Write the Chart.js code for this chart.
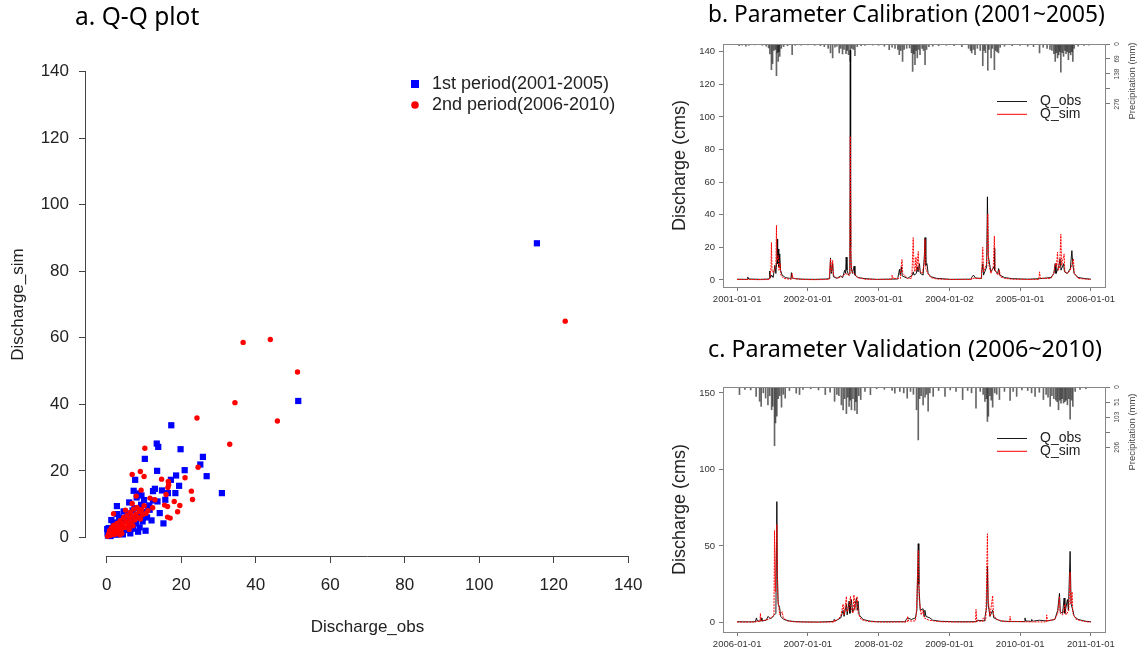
<!DOCTYPE html>
<html>
<head>
<meta charset="utf-8">
<title>Q-Q plot, calibration and validation hydrographs</title>
<script src="https://cdn.jsdelivr.net/npm/chart.js@4.4.1/dist/chart.umd.min.js"></script>
<style>
  body { margin: 0; background: #fff; }
  .panel { position: absolute; }
</style>
</head>
<body>
<div class="panel" style="left:0;top:0"><canvas id="qqChart" width="660" height="650"></canvas></div>
<div class="panel" style="left:660px;top:0"><canvas id="calibChart" width="481" height="325"></canvas></div>
<div class="panel" style="left:660px;top:325px"><canvas id="validChart" width="481" height="325"></canvas></div>
<script>
// ---- a. Q-Q plot data: [Discharge_obs, Discharge_sim]
const period1Points = [
    [115.5, 88.4], [51.4, 41.0], [17.3, 33.7], [13.4, 28.2], [13.8, 27.2], [19.8, 26.5],
    [10.2, 23.6], [25.8, 24.2], [25.1, 21.9], [13.5, 20.0], [20.9, 20.2], [26.8, 18.4],
    [18.6, 18.6], [7.6, 17.3], [17.2, 17.3], [19.4, 15.5], [30.9, 13.3], [7.2, 14.0],
    [12.4, 13.9], [12.9, 14.6], [16.4, 13.3], [18.4, 13.3], [15.7, 11.3], [2.7, 9.4],
    [8.6, 13.2], [15.2, 4.2], [10.4, 2.0], [8.4, 1.7], [9.7, 5.8], [14.8, 14.1],
    [9.3, 12.6], [12.4, 11.1], [11.1, 9.1], [14.2, 7.3], [10.2, 7.6], [6.9, 8.1],
    [13.6, 10.8], [11.4, 9.6],
    [0.1, 2.5], [0.2, 1.2], [0.3, 0.5], [0.5, 2.8], [0.8, 1.0], [1.0, 0.4], [1.2, 5.2],
    [1.5, 2.0], [1.8, 3.5], [2.0, 1.0], [2.3, 4.5], [2.6, 0.8], [3.0, 2.5], [3.3, 6.0],
    [3.6, 1.5], [4.0, 3.8], [4.3, 0.9], [4.8, 5.5], [5.2, 2.2], [5.5, 7.2], [5.9, 3.4],
    [6.3, 1.2], [6.6, 5.0], [7.0, 2.6], [7.4, 8.8], [7.8, 4.2], [8.2, 6.4], [8.8, 3.0],
    [9.2, 9.8], [9.6, 4.8], [10.0, 11.2], [10.8, 6.0], [11.5, 8.3], [12.0, 5.1],
    [6.0, 10.5], [8.0, 12.0], [4.5, 7.8], [2.8, 7.0]
];
const period2Points = [
    [123.1, 65.0], [36.6, 58.6], [43.9, 59.5], [51.2, 49.7], [34.4, 40.5], [24.2, 35.9],
    [45.8, 35.0], [33.0, 28.0], [10.2, 26.8], [24.5, 21.1], [6.8, 18.9], [9.0, 19.8],
    [10.0, 18.3], [21.0, 17.9], [14.7, 17.5], [16.5, 16.8], [16.6, 15.8], [16.4, 15.0],
    [22.7, 13.9], [23.0, 11.4], [18.1, 10.8], [19.6, 9.6], [19.0, 7.7], [15.5, 9.7],
    [16.3, 6.1], [7.9, 12.4], [9.2, 14.2], [6.8, 10.2], [11.6, 11.8], [12.3, 8.9],
    [1.8, 7.1], [15.9, 12.9], [16.3, 9.3], [12.9, 11.3], [17.0, 5.8],
    [0.2, 0.3], [0.5, 1.0], [0.7, 2.0], [1.0, 0.6], [1.2, 2.8], [1.5, 1.5], [1.8, 3.6],
    [2.1, 0.9], [2.4, 2.4], [2.7, 4.2], [3.0, 1.8], [3.3, 3.2], [3.6, 5.0], [3.9, 2.5],
    [4.2, 4.0], [4.5, 6.0], [4.8, 3.0], [5.1, 4.8], [5.4, 6.6], [5.7, 3.8], [6.0, 5.5],
    [6.3, 7.5], [6.6, 4.5], [6.9, 6.2], [7.2, 8.5], [7.5, 5.2], [7.8, 7.0], [8.1, 9.0],
    [8.4, 6.0], [8.7, 7.8], [9.0, 5.5], [9.3, 8.3], [9.6, 6.8], [10.0, 9.5], [10.5, 7.2],
    [11.0, 8.0], [4.0, 1.2], [6.0, 2.4], [2.0, 3.0], [5.0, 8.2], [7.0, 3.5], [3.5, 0.8]
];
const qqTicks = [0, 20, 40, 60, 80, 100, 120, 140];

// ---- b. calibration 2001~2005: [day since 2001-01-01, value]
const calibTickDays = [0, 365, 730, 1096, 1461, 1826];
const calibTickLabels = ['2001-01-01', '2002-01-01', '2003-01-01', '2004-01-02', '2005-01-01', '2006-01-01'];
const calibQTicks = [0, 20, 40, 60, 80, 100, 120, 140];
const calibRainTicks = [0, 69, 138, 207, 276];
const calibRainLabels = ['0', '69', '138', '', '276'];
const calibObs = [
    [0, 0.5], [40, 0.4], [53, 0.4], [55, 1.8], [60, 0.6], [120, 0.4], [160, 0.6], [166, 0.8],
    [168, 5.5], [172, 1.5], [178, 3], [186, 1.5], [195, 9], [200, 4], [205, 12], [207, 25],
    [209, 10], [212, 19], [215, 8], [220, 16], [224, 6], [232, 3], [250, 1.5], [270, 1],
    [278, 1], [280, 4.5], [284, 1.2], [300, 0.8], [340, 0.5], [400, 0.4], [460, 0.6], [475, 0.8],
    [478, 3], [482, 13.5], [486, 4], [493, 10], [497, 2], [515, 1], [535, 2.5], [545, 1.5],
    [555, 6], [560, 4], [563, 14], [567, 6], [575, 3], [582, 4], [584, 141], [586, 20],
    [589, 8], [595, 4], [604, 8.5], [608, 3], [625, 1.5], [660, 0.8], [720, 0.4], [780, 0.5],
    [828, 0.6], [830, 1.5], [838, 6.5], [842, 3], [848, 8], [852, 2.5], [880, 1], [905, 3],
    [909, 5], [913, 3], [925, 4], [930, 8], [934, 5], [941, 10], [946, 4], [960, 3],
    [966, 14], [970, 26], [974, 9], [980, 10], [986, 4], [1000, 2], [1030, 1], [1100, 0.4],
    [1180, 0.5], [1208, 0.5], [1210, 1.5], [1220, 3], [1230, 1.2], [1260, 1], [1262, 4],
    [1268, 10], [1272, 3], [1288, 8], [1292, 51], [1296, 15], [1310, 5], [1326, 8],
    [1328, 19.5], [1331, 6], [1345, 4], [1350, 7], [1356, 3], [1380, 1.5], [1420, 0.8],
    [1500, 0.5], [1560, 0.8], [1620, 1.5], [1635, 4], [1642, 10], [1646, 4], [1660, 8],
    [1667, 13], [1672, 6], [1685, 10], [1690, 5], [1705, 4], [1720, 7], [1728, 18],
    [1733, 9], [1740, 4], [1760, 1.5], [1800, 0.8], [1826, 0.5]
];
const calibSim = [
    [0, 0.3], [60, 0.3], [120, 0.2], [160, 0.3], [168, 0.5], [170, 2], [175, 8], [177, 23],
    [180, 5], [190, 5], [200, 9], [203, 33.5], [206, 12], [212, 15], [216, 6], [222, 10],
    [226, 3], [240, 1], [270, 0.5], [280, 0.5], [282, 1.5], [284, 4], [288, 1], [330, 0.3],
    [400, 0.2], [460, 0.3], [474, 0.4], [476, 2], [482, 13], [486, 5], [493, 12], [497, 3],
    [515, 1], [540, 2], [560, 4], [575, 3], [582, 3], [584, 88], [585, 68], [588, 12],
    [592, 5], [605, 4], [620, 1.5], [660, 0.5], [720, 0.3], [780, 0.4], [798, 0.4], [800, 3],
    [806, 0.8], [830, 1], [843, 1], [845, 6], [851, 12.5], [855, 4], [880, 1], [900, 1],
    [903, 5], [909, 26], [913, 8], [918, 5], [923, 14], [927, 6], [935, 17.5], [939, 6],
    [955, 4], [966, 10], [970, 25], [974, 7], [984, 4], [1000, 1.5], [1030, 0.6], [1100, 0.3],
    [1180, 0.3], [1208, 0.3], [1210, 1], [1230, 1], [1260, 0.8], [1262, 4], [1268, 20],
    [1272, 5], [1288, 10], [1294, 40.5], [1298, 10], [1310, 4], [1322, 8], [1328, 27],
    [1332, 6], [1345, 3], [1354, 6], [1358, 2], [1380, 1], [1420, 0.5], [1500, 0.3],
    [1556, 0.3], [1558, 1], [1561, 5], [1565, 1], [1620, 1], [1635, 4], [1642, 10],
    [1648, 8], [1654, 17], [1658, 6], [1665, 8], [1671, 28], [1675, 9], [1688, 16],
    [1692, 5], [1705, 4], [1720, 6], [1736, 13], [1740, 4], [1760, 1], [1800, 0.5], [1826, 0.3]
];
const calibRain = [
    [10, 8], [25, 5], [45, 10], [60, 6], [90, 4], [130, 6], [150, 10], [162, 18], [169, 46],
    [177, 118], [183, 90], [190, 30], [197, 25], [203, 146], [208, 40], [212, 80], [216, 35],
    [220, 57], [228, 20], [240, 12], [260, 8], [284, 49], [300, 6], [330, 5], [365, 4],
    [400, 6], [430, 8], [450, 12], [470, 20], [482, 41], [493, 64], [505, 15], [515, 10],
    [527, 41], [535, 20], [544, 46], [552, 25], [562, 44], [568, 30], [575, 49], [584, 80],
    [592, 20], [600, 25], [608, 54], [620, 12], [640, 8], [660, 6], [700, 5], [730, 6],
    [760, 10], [785, 26], [800, 15], [815, 20], [830, 25], [837, 49], [845, 30], [854, 80],
    [862, 25], [875, 20], [890, 18], [900, 40], [906, 126], [912, 45], [918, 95], [924, 30],
    [930, 64], [937, 25], [944, 49], [955, 20], [962, 30], [970, 95], [978, 25], [990, 12],
    [1010, 10], [1040, 8], [1080, 6], [1120, 8], [1160, 12], [1195, 20], [1205, 30],
    [1211, 41], [1220, 25], [1228, 49], [1240, 20], [1255, 30], [1268, 100], [1275, 30],
    [1282, 40], [1294, 121], [1300, 25], [1311, 64], [1318, 20], [1328, 118], [1335, 30],
    [1342, 35], [1349, 41], [1358, 15], [1380, 10], [1420, 8], [1460, 6], [1500, 10],
    [1530, 12], [1561, 41], [1580, 15], [1600, 20], [1615, 25], [1625, 30], [1635, 45],
    [1642, 80], [1648, 40], [1654, 64], [1660, 50], [1665, 35], [1671, 130], [1678, 40],
    [1685, 57], [1692, 30], [1698, 45], [1704, 35], [1710, 72], [1716, 40], [1722, 50],
    [1728, 35], [1733, 80], [1740, 20], [1760, 10], [1790, 6], [1815, 5]
];

// ---- c. validation 2006~2010: [day since 2006-01-01, value]
const validTickDays = [0, 365, 731, 1096, 1461, 1826];
const validTickLabels = ['2006-01-01', '2007-01-01', '2008-01-02', '2009-01-01', '2010-01-01', '2011-01-01'];
const validQTicks = [0, 50, 100, 150];
const validRainTicks = [0, 51.5, 103, 154.5, 206];
const validRainLabels = ['0', '51', '103', '', '206'];
const validObs = [
    [0, 0.5], [60, 0.4], [93, 0.5], [95, 1], [100, 3], [104, 1], [122, 1], [124, 3], [128, 1],
    [150, 1.5], [160, 4], [167, 3], [175, 2.5], [185, 4], [193, 5], [200, 6], [205, 79],
    [208, 30], [212, 12], [219, 10], [225, 4], [240, 2], [270, 1], [300, 0.6], [340, 0.4],
    [420, 0.3], [480, 0.6], [498, 0.8], [500, 2], [510, 1.2], [535, 3], [547, 8], [552, 4],
    [564, 12], [568, 5], [578, 14], [582, 6], [590, 15], [596, 7], [605, 9], [616, 16],
    [620, 8], [624, 14], [630, 5], [650, 2], [680, 1], [720, 0.5], [800, 0.5], [868, 0.5],
    [870, 1.5], [880, 3], [900, 2], [920, 3], [928, 8], [935, 51.5], [938, 25], [945, 8],
    [960, 9], [965, 4], [969, 8], [975, 4], [995, 3], [1010, 1.5], [1050, 0.8], [1120, 0.5],
    [1200, 0.5], [1238, 0.6], [1240, 1.5], [1278, 1], [1280, 4], [1288, 10], [1292, 37],
    [1296, 12], [1305, 4], [1319, 8], [1325, 3], [1360, 1], [1420, 0.6], [1484, 0.6],
    [1486, 3], [1490, 1], [1518, 0.8], [1520, 2], [1530, 0.9], [1560, 1.5], [1600, 1],
    [1640, 2], [1655, 8], [1664, 19], [1668, 7], [1680, 6], [1688, 16], [1692, 6],
    [1705, 15], [1710, 8], [1719, 46.5], [1724, 12], [1733, 8], [1740, 4], [1760, 2],
    [1800, 0.8], [1826, 0.5]
];
const validSim = [
    [0, 0.3], [60, 0.3], [98, 0.4], [100, 1], [118, 0.5], [120, 6], [124, 1], [160, 2],
    [175, 3], [190, 5], [193, 60], [197, 20], [205, 64], [210, 15], [220, 5], [233, 7],
    [238, 3], [260, 1], [300, 0.4], [400, 0.2], [480, 0.3], [501, 0.3], [503, 2], [508, 0.8],
    [535, 4], [547, 12], [552, 5], [564, 17], [568, 7], [578, 10], [585, 17], [590, 8],
    [598, 6], [603, 18], [608, 8], [619, 17], [625, 6], [640, 2], [680, 0.6], [760, 0.3],
    [850, 0.4], [878, 0.4], [880, 4], [885, 1], [920, 1], [925, 6], [935, 47], [940, 15],
    [950, 5], [960, 8], [966, 3], [990, 1.5], [1050, 0.5], [1150, 0.3], [1231, 0.3],
    [1233, 8.5], [1237, 1], [1268, 0.8], [1270, 3], [1283, 1.5], [1285, 8], [1292, 58],
    [1296, 15], [1305, 4], [1319, 17.5], [1323, 5], [1340, 2], [1380, 0.6], [1407, 0.5],
    [1409, 4], [1412, 0.8], [1500, 0.4], [1596, 0.4], [1598, 5], [1602, 1], [1640, 2],
    [1655, 6], [1664, 17], [1668, 6], [1680, 5], [1693, 12], [1698, 5], [1712, 8],
    [1719, 33], [1723, 12], [1729, 20], [1733, 6], [1750, 2], [1800, 0.5], [1826, 0.3]
];
const validRain = [
    [12, 26], [40, 8], [70, 10], [98, 32], [116, 49], [124, 66], [135, 20], [147, 38],
    [159, 61], [168, 30], [178, 78], [184, 66], [193, 201], [198, 123], [205, 100], [212, 40],
    [220, 30], [229, 69], [238, 25], [248, 38], [270, 12], [305, 21], [322, 26], [340, 8],
    [380, 6], [420, 10], [455, 26], [480, 18], [503, 49], [515, 25], [525, 30], [538, 61],
    [547, 78], [555, 40], [564, 91], [571, 35], [578, 66], [584, 45], [590, 78], [598, 40],
    [607, 80], [613, 50], [619, 91], [628, 30], [638, 43], [660, 15], [688, 26], [720, 6],
    [760, 8], [800, 12], [814, 21], [840, 15], [860, 20], [878, 38], [895, 15], [910, 25],
    [926, 78], [935, 181], [942, 40], [950, 30], [960, 61], [970, 35], [978, 25], [986, 83],
    [995, 20], [1012, 32], [1040, 12], [1073, 32], [1100, 10], [1130, 15], [1164, 43],
    [1190, 12], [1210, 20], [1233, 72], [1255, 15], [1270, 25], [1279, 49], [1287, 40],
    [1292, 118], [1297, 100], [1305, 30], [1312, 45], [1319, 69], [1330, 20], [1340, 25],
    [1354, 43], [1380, 15], [1409, 46], [1425, 15], [1443, 32], [1470, 10], [1500, 12],
    [1520, 20], [1538, 32], [1560, 18], [1581, 43], [1595, 25], [1605, 35], [1616, 66],
    [1625, 30], [1635, 40], [1645, 45], [1652, 50], [1659, 78], [1666, 45], [1672, 55],
    [1678, 40], [1685, 55], [1692, 50], [1698, 45], [1705, 61], [1712, 40], [1719, 110],
    [1726, 45], [1733, 66], [1745, 15], [1770, 8], [1800, 6]
];

const AXIS_FONT = '"Liberation Sans", Arial, sans-serif';
const TITLE_FONT = '"Noto Sans", "Noto Sans CJK KR", sans-serif';

function toXY(pairs) {
    return pairs.map(p => ({ x: p[0], y: p[1] }));
}

function fixedTicks(values) {
    return function (scale) {
        scale.ticks = values.map(v => ({ value: v }));
    };
}

// panel heading drawn at a fixed spot
const panelTitle = {
    id: 'panelTitle',
    afterDraw(chart, args, opts) {
        const ctx = chart.ctx;
        ctx.save();
        ctx.font = opts.font;
        ctx.fillStyle = '#000';
        ctx.textBaseline = 'middle';
        ctx.fillText(opts.text, opts.x, opts.y);
        ctx.restore();
    }
};

// legend box placed inside the plot, like R's legend()
const cornerLegend = {
    id: 'cornerLegend',
    afterDraw(chart, args, opts) {
        const ctx = chart.ctx;
        ctx.save();
        ctx.font = opts.font;
        ctx.textBaseline = 'middle';
        chart.data.datasets.filter(d => d.inLegend).forEach((d, i) => {
            const y = opts.y + i * opts.rowGap;
            if (opts.sample === 'line') {
                ctx.strokeStyle = d.borderColor;
                ctx.lineWidth = 1;
                ctx.beginPath();
                ctx.moveTo(opts.x, y + 0.5);
                ctx.lineTo(opts.x + opts.lineLen, y + 0.5);
                ctx.stroke();
            } else if (d.pointStyle === 'rect') {
                ctx.fillStyle = d.backgroundColor;
                ctx.fillRect(opts.x - 4, y - 4, 8, 8);
            } else {
                ctx.fillStyle = d.backgroundColor;
                ctx.beginPath();
                ctx.arc(opts.x, y, 3.8, 0, Math.PI * 2);
                ctx.fill();
            }
            ctx.fillStyle = '#222';
            ctx.fillText(d.label, opts.textX, y);
        });
        ctx.restore();
    }
};

// R style detached axis lines running from first to last tick
const rAxisLines = {
    id: 'rAxisLines',
    afterDraw(chart, args, opts) {
        const { ctx, chartArea, scales } = chart;
        ctx.save();
        ctx.strokeStyle = opts.color;
        ctx.lineWidth = 1;
        ctx.beginPath();
        ctx.moveTo(scales.x.getPixelForValue(opts.from), chartArea.bottom + 0.5);
        ctx.lineTo(scales.x.getPixelForValue(opts.to), chartArea.bottom + 0.5);
        ctx.moveTo(chartArea.left - 0.5, scales.y.getPixelForValue(opts.from));
        ctx.lineTo(chartArea.left - 0.5, scales.y.getPixelForValue(opts.to));
        ctx.stroke();
        ctx.restore();
    }
};

const plotBox = {
    id: 'plotBox',
    afterDraw(chart, args, opts) {
        const { ctx, chartArea } = chart;
        ctx.save();
        ctx.strokeStyle = opts.color;
        ctx.lineWidth = 1;
        ctx.strokeRect(Math.round(chartArea.left) + 0.5, Math.round(chartArea.top) + 0.5,
            Math.round(chartArea.right - chartArea.left), Math.round(chartArea.bottom - chartArea.top));
        ctx.restore();
    }
};

// rotated labels and title for the precipitation axis on the right
const rainAxis = {
    id: 'rainAxis',
    afterDraw(chart, args, opts) {
        const { ctx, chartArea } = chart;
        const s = chart.scales.y2;
        ctx.save();
        ctx.fillStyle = opts.color;
        ctx.textAlign = 'center';
        ctx.textBaseline = 'middle';
        ctx.font = opts.tickFont;
        opts.ticks.forEach((v, i) => {
            if (!opts.labels[i]) return;
            ctx.save();
            ctx.translate(chartArea.right + opts.labelGap, s.getPixelForValue(v));
            ctx.rotate(-Math.PI / 2);
            ctx.fillText(opts.labels[i], 0, 0);
            ctx.restore();
        });
        ctx.font = opts.titleFont;
        ctx.translate(chartArea.right + opts.titleGap, opts.titleY);
        ctx.rotate(-Math.PI / 2);
        ctx.fillText(opts.title, 0, 0);
        ctx.restore();
    }
};

function buildQQChart() {
    let ctx = document.getElementById('qqChart').getContext('2d');
    new Chart(ctx, {
        type: 'scatter',
        data: {
            datasets: [
                {
                    label: '1st period(2001-2005)',
                    data: toXY(period1Points),
                    pointStyle: 'rect',
                    pointRadius: 4.4,
                    backgroundColor: '#0000ff',
                    borderWidth: 0,
                    order: 1,
                    inLegend: true,
                },
                {
                    label: '2nd period(2006-2010)',
                    data: toXY(period2Points),
                    pointStyle: 'circle',
                    pointRadius: 2.7,
                    backgroundColor: '#ff0000',
                    borderWidth: 0,
                    order: 0,
                    inLegend: true,
                },
            ],
        },
        options: {
            responsive: false,
            animation: false,
            events: [],
            layout: { padding: { top: 53, right: 11, left: 0, bottom: 0 } },
            scales: {
                x: {
                    type: 'linear',
                    min: -5.6,
                    max: 145.6,
                    afterBuildTicks: fixedTicks(qqTicks),
                    afterFit: s => { s.height = 94; },
                    border: { display: false },
                    grid: { drawOnChartArea: false, tickLength: 7, color: '#444' },
                    ticks: { font: { family: AXIS_FONT, size: 17 }, color: '#222', padding: 12, maxRotation: 0 },
                    title: {
                        display: true,
                        text: 'Discharge_obs',
                        font: { family: AXIS_FONT, size: 17 },
                        color: '#222',
                        padding: { top: 4, bottom: 12 },
                    },
                },
                y: {
                    type: 'linear',
                    min: -5.6,
                    max: 145.6,
                    afterBuildTicks: fixedTicks(qqTicks),
                    afterFit: s => { s.width = 86; },
                    border: { display: false },
                    grid: { drawOnChartArea: false, tickLength: 7, color: '#444' },
                    ticks: { font: { family: AXIS_FONT, size: 17 }, color: '#222', padding: 10 },
                    title: {
                        display: true,
                        text: 'Discharge_sim',
                        font: { family: AXIS_FONT, size: 17 },
                        color: '#222',
                        padding: { top: 8, bottom: 0 },
                    },
                },
            },
            plugins: {
                legend: { display: false },
                tooltip: { enabled: false },
                panelTitle: { text: 'a. Q-Q plot', x: 75, y: 18, font: '24.5px ' + TITLE_FONT },
                cornerLegend: { sample: 'point', x: 415, textX: 432, y: 84, rowGap: 21, font: '18px ' + AXIS_FONT },
                rAxisLines: { from: 0, to: 140, color: '#444' },
            },
        },
        plugins: [panelTitle, cornerLegend, rAxisLines],
    });
}

function buildHydroChart(id, cfg) {
    let ctx = document.getElementById(id).getContext('2d');
    new Chart(ctx, {
        type: 'line',
        data: {
            datasets: [
                {
                    label: 'Q_obs',
                    type: 'line',
                    data: toXY(cfg.obs),
                    borderColor: 'rgba(0, 0, 0, 0.9)',
                    borderWidth: 1,
                    pointRadius: 0,
                    order: 1,
                    inLegend: true,
                },
                {
                    label: 'Q_sim',
                    type: 'line',
                    data: toXY(cfg.sim),
                    borderColor: 'rgba(255, 0, 0, 1)',
                    borderWidth: 1,
                    borderDash: [2, 1],
                    pointRadius: 0,
                    order: 0,
                    inLegend: true,
                },
                {
                    label: 'Precipitation',
                    type: 'bar',
                    data: toXY(cfg.rain),
                    yAxisID: 'y2',
                    backgroundColor: 'rgba(0, 0, 0, 0.6)',
                    barThickness: 1,
                    order: 2,
                },
            ],
        },
        options: {
            responsive: false,
            animation: false,
            events: [],
            layout: { padding: { top: cfg.top, left: 11, right: 0, bottom: 0 } },
            scales: {
                x: {
                    type: 'linear',
                    offset: false,
                    min: -73,
                    max: 1899,
                    afterBuildTicks: fixedTicks(cfg.tickDays),
                    afterFit: s => { s.height = cfg.xHeight; },
                    border: { display: false },
                    grid: { drawOnChartArea: false, offset: false, tickLength: 4, color: '#777' },
                    ticks: {
                        font: { family: AXIS_FONT, size: 9.5 },
                        color: '#333',
                        padding: 3,
                        maxRotation: 0,
                        autoSkip: false,
                        callback: (v, i) => cfg.tickLabels[i],
                    },
                },
                y: {
                    type: 'linear',
                    min: cfg.qMin,
                    max: cfg.qMax,
                    afterBuildTicks: fixedTicks(cfg.qTicks),
                    afterFit: s => { s.width = 52; },
                    border: { display: false },
                    grid: { drawOnChartArea: false, tickLength: 4, color: '#777' },
                    ticks: { font: { family: AXIS_FONT, size: 9.5 }, color: '#333', padding: 4 },
                    title: {
                        display: true,
                        text: 'Discharge (cms)',
                        font: { family: AXIS_FONT, size: 18, lineHeight: 1 },
                        color: '#222',
                        padding: 0,
                    },
                },
                y2: {
                    type: 'linear',
                    position: 'right',
                    reverse: true,
                    min: 0,
                    max: cfg.rainMax,
                    afterBuildTicks: fixedTicks(cfg.rainTicks),
                    afterFit: s => { s.width = 36; },
                    border: { display: false },
                    grid: { drawOnChartArea: false, tickLength: 5, color: '#777' },
                    ticks: { display: false },
                },
            },
            plugins: {
                legend: { display: false },
                tooltip: { enabled: false },
                panelTitle: { text: cfg.title, x: 48, y: cfg.titleY, font: cfg.titleSize + 'px ' + TITLE_FONT },
                cornerLegend: { sample: 'line', x: 337, lineLen: 30, textX: 380, y: cfg.legendY, rowGap: 12.8, font: '14px ' + AXIS_FONT },
                plotBox: { color: '#888' },
                rainAxis: {
                    ticks: cfg.rainTicks,
                    labels: cfg.rainLabels,
                    labelGap: 12,
                    titleGap: 27,
                    titleY: cfg.rainTitleY,
                    title: 'Precipitation (mm)',
                    tickFont: '6.5px ' + AXIS_FONT,
                    titleFont: '9.5px ' + AXIS_FONT,
                    color: '#444',
                },
            },
        },
        plugins: [panelTitle, cornerLegend, plotBox, rainAxis],
    });
}

buildQQChart();
buildHydroChart('calibChart', {
    title: 'b. Parameter Calibration (2001~2005)', titleY: 16, titleSize: 22.7, top: 44, xHeight: 38,
    obs: calibObs, sim: calibSim, rain: calibRain,
    tickDays: calibTickDays, tickLabels: calibTickLabels,
    qMin: -4.3, qMax: 144.7, qTicks: calibQTicks,
    rainMax: 1118, rainTicks: calibRainTicks, rainLabels: calibRainLabels, rainTitleY: 81,
    legendY: 101,
});
buildHydroChart('validChart', {
    title: 'c. Parameter Validation (2006~2010)', titleY: 25, titleSize: 23.3, top: 62, xHeight: 18,
    obs: validObs, sim: validSim, rain: validRain,
    tickDays: validTickDays, tickLabels: validTickLabels,
    qMin: -6.2, qMax: 153.9, qTicks: validQTicks,
    rainMax: 838, rainTicks: validRainTicks, rainLabels: validRainLabels, rainTitleY: 107,
    legendY: 113,
});
</script>
</body>
</html>
